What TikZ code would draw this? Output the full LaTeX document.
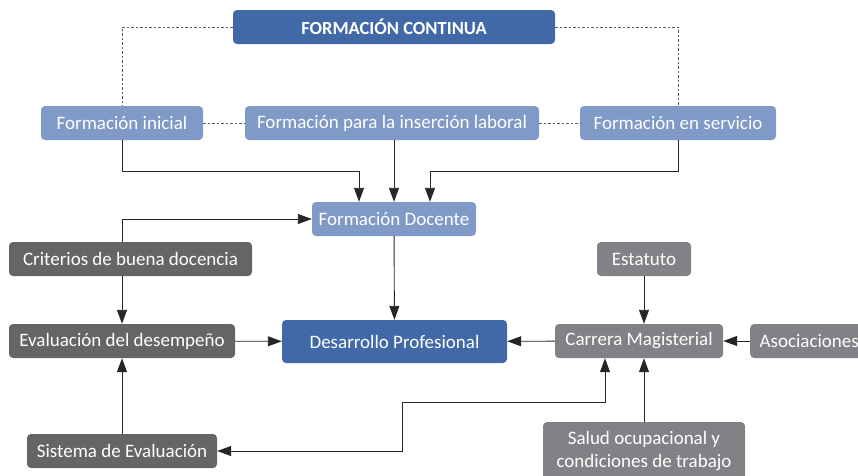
\documentclass[tikz,border=0pt]{standalone}
\usepackage{fontspec}
\setmainfont{Carlito}
\usetikzlibrary{arrows.meta,positioning}
\definecolor{azul}{HTML}{4169A8}
\definecolor{azulclaro}{HTML}{7F9AC6}
\definecolor{grisosc}{HTML}{646567}
\definecolor{gris}{HTML}{818285}

\begin{document}
\begin{tikzpicture}[
  x=1pt,
  y=-1pt,
  box/.style={
    rectangle,
    rounded corners=4pt,
    text=white,
    align=center,
    minimum height=34pt,
    inner sep=2pt,
    font=\fontsize{19}{23}\selectfont
  },
  titulo/.style={box, fill=azul, font=\fontsize{18.5}{22}\selectfont\bfseries},
  formbox/.style={box, fill=azulclaro},
  centro/.style={box, fill=azul},
  evalbox/.style={box, fill=grisosc},
  carrbox/.style={box, fill=gris},
  arrow/.style={-{Triangle[length=14pt,width=10pt]}, line width=0.9pt, draw=black!85},
  dblarrow/.style={arrow, {Triangle[length=14pt,width=10pt]}-{Triangle[length=14pt,width=10pt]}},
  dotline/.style={line width=0.9pt, draw=black!65, dash pattern=on 2.5pt off 2pt}
]
\useasboundingbox (0,0) rectangle (858,475);

\node[titulo, minimum width=322pt] (continua) at (394, 27) {FORMACIÓN CONTINUA};

\node[formbox, minimum width=162pt] (inicial) at (122, 123) {Formación inicial};
\node[formbox, minimum width=294pt] (insercion) at (392, 123) {Formación para la inserción laboral};
\node[formbox, minimum width=196pt] (servicio) at (678, 123) {Formación en servicio};
\node[formbox, minimum width=164pt] (docente) at (394, 219) {Formación Docente};

\node[centro, minimum width=225pt, minimum height=43pt] (desarrollo) at (394.5, 341.5) {Desarrollo Profesional};

\node[evalbox, minimum width=243pt] (criterios) at (130.5, 259) {Criterios de buena docencia};
\node[evalbox, minimum width=226pt] (evaluacion) at (122, 341) {Evaluación del desempeño};
\node[evalbox, minimum width=190pt] (sistema) at (122, 451) {Sistema de Evaluación};

\node[carrbox, minimum width=94pt] (estatuto) at (644, 259) {Estatuto};
\node[carrbox, minimum width=168pt] (carrera) at (639, 341) {Carrera Magisterial};
\node[carrbox, minimum width=118pt, inner xsep=7pt] (asociaciones) at (750, 341) [anchor=west] {Asociaciones};
\node[carrbox, minimum width=202pt, minimum height=58pt] (salud) at (644, 451)
  {Salud ocupacional y\\condiciones de trabajo};

\coordinate (codo) at (402, 402);

% formacion continua
\draw[dotline] (continua.west) -| (inicial.north);
\draw[dotline] (continua.east) -| (servicio.north);
\draw[dotline] (inicial) -- (insercion);
\draw[dotline] (insercion) -- (servicio);

\draw[arrow] (inicial.south) -- ++(0,31) -| ([xshift=-35pt]docente.north);
\draw[arrow] (docente.north |- insercion.south) -- (docente.north);
\draw[arrow] (servicio.south) -- ++(0,31) -| ([xshift=36pt]docente.north);
\draw[arrow] (docente) -- (desarrollo);

% evaluacion
\draw[arrow] (criterios.north -| evaluacion.north) |- (docente.west);
\draw[arrow] (criterios.south -| evaluacion.north) -- (evaluacion.north);
\draw[arrow] (evaluacion) -- (desarrollo);
\draw[arrow] (sistema) -- (evaluacion);

% carrera
\draw[arrow] (carrera) -- (desarrollo);
\draw[arrow] (estatuto.south) -- (estatuto.south |- carrera.north);
\draw[arrow] (asociaciones) -- (carrera);
\draw[arrow] (salud.north) -- (salud.north |- carrera.south);
\draw[dblarrow] (sistema.east) -| (codo) -| ([xshift=-34pt]carrera.south);
\end{tikzpicture}
\end{document}
